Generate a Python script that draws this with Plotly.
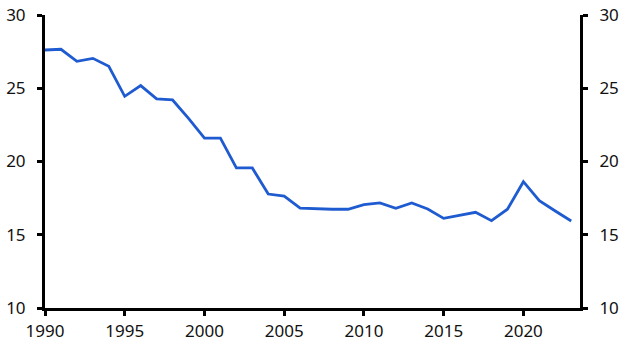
import plotly.graph_objects as go

years = list(range(1990, 2024))
values = [27.61, 27.66, 26.84, 27.04, 26.5, 24.45, 25.18, 24.27, 24.2, 22.95,
          21.6, 21.6, 19.56, 19.56, 17.78, 17.64, 16.81, 16.75, 16.74, 16.74,
          17.05, 17.17, 16.81, 17.17, 16.76, 16.12, 16.33, 16.53, 15.96, 16.74,
          18.62, 17.33, 16.62, 15.94]
x_ticks = [1990, 1995, 2000, 2005, 2010, 2015, 2020]
y_ticks = [10, 15, 20, 25, 30]

fig = go.Figure()
fig.add_trace(go.Scatter(x=years, y=values, mode="lines",
                         line=dict(color="#1F5BD0", width=2.8),
                         showlegend=False, hoverinfo="skip"))
fig.add_trace(go.Scatter(x=years, y=values, mode="lines", yaxis="y2",
                         line=dict(color="rgba(0,0,0,0)", width=0),
                         showlegend=False, hoverinfo="skip"))

font = dict(family="Noto Sans, DejaVu Sans, sans-serif", size=17, color="#111")
axis_common = dict(showgrid=False, zeroline=False, showline=True, linecolor="black",
                   linewidth=3, ticks="outside", ticklen=5, tickwidth=2.5,
                   tickcolor="black", tickfont=font, automargin=False)

fig.update_layout(
    template="none",
    width=631, height=357,
    margin=dict(l=45, r=51, t=15, b=49),
    paper_bgcolor="white", plot_bgcolor="white",
    xaxis=dict(range=[1990, 2023.55], tickvals=x_ticks, ticklabelstandoff=1,
               **axis_common),
    yaxis=dict(range=[10, 30], tickvals=y_ticks, side="left",
               ticklabelstandoff=8, **axis_common),
    yaxis2=dict(range=[10, 30], tickvals=y_ticks, side="right", overlaying="y",
                ticklabelstandoff=8, **axis_common),
)

fig.write_html("out.html", config={"displayModeBar": False},
               post_script="document.body.style.margin='0';document.body.style.overflow='hidden';")
